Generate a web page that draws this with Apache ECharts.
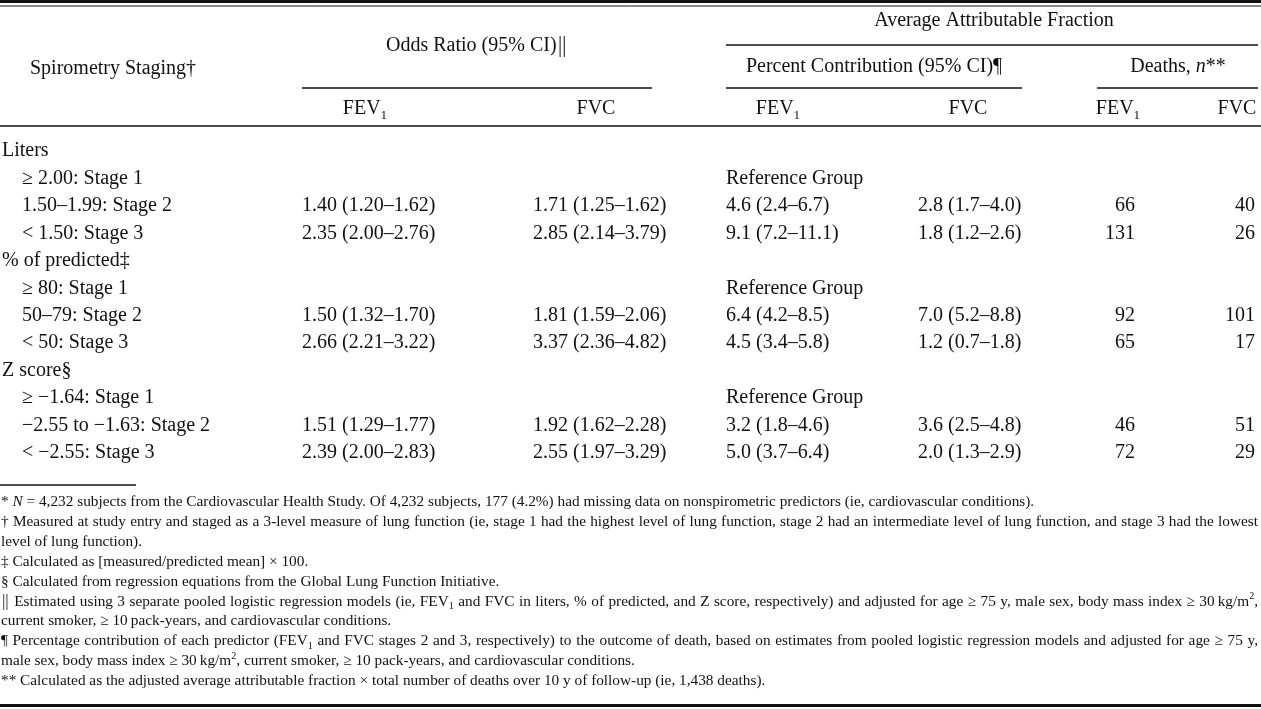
<!DOCTYPE html>
<html>
<head>
<meta charset="utf-8">
<script src="https://cdn.jsdelivr.net/npm/echarts/dist/echarts.min.js"></script>
<style>
html,body{margin:0;padding:0;background:#ffffff;}
#chart{width:1261px;height:709px;}
</style>
</head>
<body>
<div id="chart"></div>
<script>
// ---------------- DATA ----------------
const rowLabels = [
  'Liters', '≥ 2.00: Stage 1', '1.50–1.99: Stage 2', '< 1.50: Stage 3',
  '% of predicted‡', '≥ 80: Stage 1', '50–79: Stage 2', '< 50: Stage 3',
  'Z score§', '≥ −1.64: Stage 1', '−2.55 to −1.63: Stage 2', '< −2.55: Stage 3'
];
const rowLevel = [0, 1, 1, 1, 0, 1, 1, 1, 0, 1, 1, 1];
const oddsFEV1 = ['', '', '1.40 (1.20–1.62)', '2.35 (2.00–2.76)', '', '', '1.50 (1.32–1.70)', '2.66 (2.21–3.22)', '', '', '1.51 (1.29–1.77)', '2.39 (2.00–2.83)'];
const oddsFVC = ['', '', '1.71 (1.25–1.62)', '2.85 (2.14–3.79)', '', '', '1.81 (1.59–2.06)', '3.37 (2.36–4.82)', '', '', '1.92 (1.62–2.28)', '2.55 (1.97–3.29)'];
const pctFEV1 = ['', 'Reference Group', '4.6 (2.4–6.7)', '9.1 (7.2–11.1)', '', 'Reference Group', '6.4 (4.2–8.5)', '4.5 (3.4–5.8)', '', 'Reference Group', '3.2 (1.8–4.6)', '5.0 (3.7–6.4)'];
const pctFVC = ['', '', '2.8 (1.7–4.0)', '1.8 (1.2–2.6)', '', '', '7.0 (5.2–8.8)', '1.2 (0.7–1.8)', '', '', '3.6 (2.5–4.8)', '2.0 (1.3–2.9)'];
const deathsFEV1 = [null, null, 66, 131, null, null, 92, 65, null, null, 46, 72];
const deathsFVC = [null, null, 40, 26, null, null, 101, 17, null, null, 51, 29];

const headerStub = 'Spirometry Staging†';
const headerOdds = 'Odds Ratio (95% CI)#{‖}';
const headerAAF = 'Average Attributable Fraction';
const headerPct = 'Percent Contribution (95% CI)¶';
const headerDeaths = 'Deaths, ~{n}**';
const subHeaders = ['FEV_{1}', 'FVC', 'FEV_{1}', 'FVC', 'FEV_{1}', 'FVC'];

// [text, justified]
const footnotes = [
  ['* ~{N} = 4,232 subjects from the Cardiovascular Health Study. Of 4,232 subjects, 177 (4.2%) had missing data on nonspirometric predictors (ie, cardiovascular conditions).', false],
  ['† Measured at study entry and staged as a 3-level measure of lung function (ie, stage 1 had the highest level of lung function, stage 2 had an intermediate level of lung function, and stage 3 had the lowest', true],
  ['level of lung function).', false],
  ['‡ Calculated as [measured/predicted mean] × 100.', false],
  ['§ Calculated from regression equations from the Global Lung Function Initiative.', false],
  ['#{‖} Estimated using 3 separate pooled logistic regression models (ie, FEV_{1} and FVC in liters, % of predicted, and Z score, respectively) and adjusted for age ≥ 75 y, male sex, body mass index ≥ 30\u2009kg/m^{2},', true],
  ['current smoker, ≥ 10\u2009pack-years, and cardiovascular conditions.', false],
  ['¶ Percentage contribution of each predictor (FEV_{1} and FVC stages 2 and 3, respectively) to the outcome of death, based on estimates from pooled logistic regression models and adjusted for age ≥ 75 y,', true],
  ['male sex, body mass index ≥ 30\u2009kg/m^{2}, current smoker, ≥ 10 pack-years, and cardiovascular conditions.', false],
  ['** Calculated as the adjusted average attributable fraction × total number of deaths over 10 y of follow-up (ie, 1,438 deaths).', false]
];

// ---------------- LAYOUT / STYLE ----------------
const FONT = '"Liberation Serif","Times New Roman",Times,serif';
const BAR_FONT = '"Noto Sans","Open Sans","DejaVu Sans",sans-serif';
const BIG = 20;
const SMALL = 15.3;
const INK = '#111111';
const W = 1261;
const BIG_DY = 2;   // optical centring of 20px text
const SMALL_DY = 1;

const columns = [
  { values: oddsFEV1, x: 302, align: 'left' },
  { values: oddsFVC, x: 533, align: 'left' },
  { values: pctFEV1, x: 726, align: 'left' },
  { values: pctFVC, x: 918, align: 'left' },
  { values: deathsFEV1, x: 1135, align: 'right' },
  { values: deathsFVC, x: 1255, align: 'right' }
];

function parse(str) {
  const out = [];
  const re = /([_^~#])\{([^}]*)\}/g;
  let last = 0, m;
  while ((m = re.exec(str))) {
    if (m.index > last) out.push({ t: 'r', s: str.slice(last, m.index) });
    const map = { '_': 'b', '^': 'p', '~': 'i', '#': 'd' };
    out.push({ t: map[m[1]], s: m[2] });
    last = re.lastIndex;
  }
  if (last < str.length) out.push({ t: 'r', s: str.slice(last) });
  return out;
}
function subSize(size) { return Math.round(size * 0.66 * 10) / 10; }
function barSize(size) { return Math.round(size * 1.05 * 10) / 10; }
function richStyles(size) {
  const s = subSize(size);
  return {
    r: { fontSize: size, fontFamily: FONT, fill: INK, lineHeight: size * 1.3 },
    i: { fontSize: size, fontFamily: FONT, fontStyle: 'italic', fill: INK, lineHeight: size * 1.3 },
    d: { fontSize: barSize(size), fontFamily: BAR_FONT, fontWeight: 300, fill: INK, lineHeight: size * 1.3 },
    b: { fontSize: s, fontFamily: FONT, fill: INK, lineHeight: s, verticalAlign: 'bottom' },
    p: { fontSize: s, fontFamily: FONT, fill: INK, lineHeight: s, verticalAlign: 'top' }
  };
}
const mctx = document.createElement('canvas').getContext('2d');
function measure(str, size) {
  let w = 0;
  parse(str).forEach(function (seg) {
    let sz = size, fam = FONT, wt = '';
    if (seg.t === 'b' || seg.t === 'p') sz = subSize(size);
    if (seg.t === 'd') { sz = barSize(size); fam = BAR_FONT; wt = '300 '; }
    mctx.font = (seg.t === 'i' ? 'italic ' : '') + wt + sz + 'px ' + fam;
    w += mctx.measureText(seg.s).width;
  });
  return w;
}
function textEl(str, x, y, size, align) {
  const segs = parse(str);
  const hasRich = segs.some(function (s) { return s.t !== 'r'; });
  const dy = size >= BIG ? BIG_DY : SMALL_DY;
  const style = {
    text: hasRich ? segs.map(function (s) { return '{' + s.t + '|' + s.s + '}'; }).join('') : str,
    font: size + 'px ' + FONT,
    fill: INK,
    align: align, verticalAlign: 'middle',
    textAlign: align, textVerticalAlign: 'middle'
  };
  if (hasRich) style.rich = richStyles(size);
  return { type: 'text', x: x, y: y + dy, silent: true, style: style };
}
function lineEl(x1, y1, x2, y2, w) {
  return { type: 'line', silent: true, shape: { x1: x1, y1: y1, x2: x2, y2: y2 }, style: { stroke: INK, lineWidth: w } };
}

// ---------------- GRAPHIC (headers, rules, footnotes) ----------------
const graphics = [];
graphics.push(lineEl(0, 1.5, W, 1.5, 3));
graphics.push(lineEl(0, 6, W, 6, 1));
graphics.push(textEl(headerAAF, 994, 19, BIG, 'center'));
graphics.push(lineEl(726, 45, 1258, 45, 1.3));
graphics.push(textEl(headerOdds, 477, 44, BIG, 'center'));
graphics.push(textEl(headerStub, 30, 67, BIG, 'left'));
graphics.push(textEl(headerPct, 874, 65, BIG, 'center'));
graphics.push(textEl(headerDeaths, 1178, 65, BIG, 'center'));
graphics.push(lineEl(302, 88, 652, 88, 1.3));
graphics.push(lineEl(726, 88, 1022, 88, 1.3));
graphics.push(lineEl(1097, 88, 1258, 88, 1.3));
const subX = [365, 596, 778, 968, 1118, 1237];
subHeaders.forEach(function (h, k) { graphics.push(textEl(h, subX[k], 107, BIG, 'center')); });
graphics.push(lineEl(0, 126, W, 126, 1.6));

graphics.push(lineEl(0, 485, 136, 485, 1.3));
const fnTop = 501, fnStep = 19.9, fnLeft = 1, fnRight = 1258;
footnotes.forEach(function (fn, k) {
  const y = fnTop + k * fnStep;
  if (!fn[1]) {
    graphics.push(textEl(fn[0], fnLeft, y, SMALL, 'left'));
  } else {
    const words = fn[0].split(' ');
    const widths = words.map(function (w) { return measure(w, SMALL); });
    const total = widths.reduce(function (a, b) { return a + b; }, 0);
    const gap = (fnRight - fnLeft - total) / (words.length - 1);
    let x = fnLeft;
    words.forEach(function (w, j) {
      graphics.push(textEl(w, x, y, SMALL, 'left'));
      x += widths[j] + gap;
    });
  }
});
graphics.push(lineEl(0, 705.5, W, 705.5, 3));

// ---------------- CHART ----------------
const chart = echarts.init(document.getElementById('chart'), null, { renderer: 'canvas' });
const rowH = 27.45;
chart.setOption({
  animation: false,
  backgroundColor: '#ffffff',
  grid: { left: 0, right: 0, top: 149 - rowH / 2, height: rowH * rowLabels.length },
  xAxis: { type: 'value', min: 0, max: W, show: false },
  yAxis: { type: 'category', data: rowLabels, inverse: true, show: false },
  graphic: { elements: graphics },
  series: [{
    type: 'custom',
    silent: true,
    coordinateSystem: 'cartesian2d',
    encode: { x: 0, y: 1 },
    data: rowLabels.map(function (_, i) { return [0, i]; }),
    renderItem: function (params, api) {
      const i = api.value(1);
      const y = api.coord([0, i])[1];
      const children = [];
      const lx = api.coord([rowLevel[i] ? 22 : 2, i])[0];
      children.push(textEl(rowLabels[i], lx, y, BIG, 'left'));
      columns.forEach(function (c) {
        const v = c.values[i];
        if (v === null || v === '') return;
        children.push(textEl(String(v), api.coord([c.x, i])[0], y, BIG, c.align));
      });
      return { type: 'group', children: children };
    }
  }]
});
</script>
</body>
</html>
